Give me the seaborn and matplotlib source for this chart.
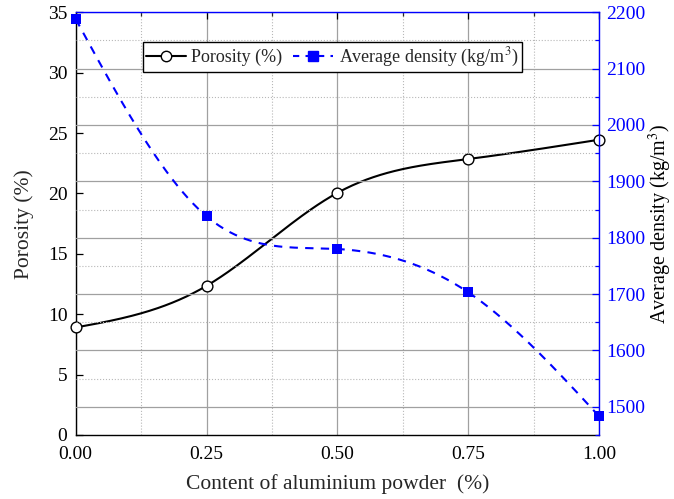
import numpy as np
import pandas as pd
import matplotlib
matplotlib.use("Agg")
import matplotlib.pyplot as plt
from matplotlib.lines import Line2D
from matplotlib.ticker import MultipleLocator
import seaborn as sns

# ---- data ----
content = [0.00, 0.25, 0.50, 0.75, 1.00]
porosity = [8.9, 12.35, 20.05, 22.85, 24.45]
density = [2188, 1838, 1780, 1703, 1483]
x_ticks = [0.00, 0.25, 0.50, 0.75, 1.00]
x_tick_labels = ["0.00", "0.25", "0.50", "0.75", "1.00"]
left_ticks = [0, 5, 10, 15, 20, 25, 30, 35]
right_ticks = [1500, 1600, 1700, 1800, 1900, 2000, 2100, 2200]


def natural_spline(x, y, n=300):
    x = np.asarray(x, float)
    y = np.asarray(y, float)
    m = len(x)
    h = np.diff(x)
    A = np.zeros((m, m))
    b = np.zeros(m)
    A[0, 0] = A[-1, -1] = 1
    for i in range(1, m - 1):
        A[i, i - 1] = h[i - 1]
        A[i, i] = 2 * (h[i - 1] + h[i])
        A[i, i + 1] = h[i]
        b[i] = 6 * ((y[i + 1] - y[i]) / h[i] - (y[i] - y[i - 1]) / h[i - 1])
    M = np.linalg.solve(A, b)
    xs = np.linspace(x[0], x[-1], n)
    idx = np.clip(np.searchsorted(x, xs) - 1, 0, m - 2)
    x0, x1 = x[idx], x[idx + 1]
    hh = x1 - x0
    t0 = x1 - xs
    t1 = xs - x0
    ys = (M[idx] * t0 ** 3 / (6 * hh) + M[idx + 1] * t1 ** 3 / (6 * hh)
          + (y[idx] / hh - M[idx] * hh / 6) * t0
          + (y[idx + 1] / hh - M[idx + 1] * hh / 6) * t1)
    return xs, ys


sns.set_theme(style="white")
plt.rcParams["font.family"] = ["Liberation Serif", "DejaVu Serif"]
plt.rcParams["mathtext.fontset"] = "stix"

fig = plt.figure(figsize=(6.74, 4.99), dpi=100)
ax = fig.add_axes([0.1123, 0.1283, 0.7767, 0.8471])
ax2 = ax.twinx()

blue = "#0000FF"

# grid on right axis
ax2.set_ylim(1450, 2200)
ax2.yaxis.set_major_locator(MultipleLocator(100))
ax2.yaxis.set_minor_locator(MultipleLocator(50))
ax2.grid(True, which="major", axis="y", color="#a0a0a0", lw=0.9, ls="-")
ax2.grid(True, which="minor", axis="y", color="#b8b8b8", lw=0.8, ls=":")

ax.set_xlim(0, 1)
ax.set_ylim(0, 35)
ax.xaxis.set_major_locator(MultipleLocator(0.25))
ax.xaxis.set_minor_locator(MultipleLocator(0.125))
ax.grid(True, which="major", axis="x", color="#a0a0a0", lw=0.9, ls="-")
ax.grid(True, which="minor", axis="x", color="#b8b8b8", lw=0.8, ls=":")
ax.grid(False, axis="y")
ax.set_axisbelow(True)

# porosity
px, py = natural_spline(content, porosity)
sns.lineplot(x=px, y=py, ax=ax, color="black", lw=1.5, sort=False, legend=False)
sns.scatterplot(x=content, y=porosity, ax=ax, marker="o", s=60, facecolor="white",
                edgecolor="black", linewidth=1.0, zorder=5, legend=False, clip_on=False)

# density
dx, dy = natural_spline(content, density)
sns.lineplot(x=dx, y=dy, ax=ax2, color=blue, lw=1.5, sort=False, legend=False,
             dashes=False)
ax2.lines[-1].set_linestyle((0, (4, 3.5)))
sns.scatterplot(x=content, y=density, ax=ax2, marker="s", s=55, color=blue,
                edgecolor=blue, linewidth=0, zorder=5, legend=False, clip_on=False)

ax.set_xticks(x_ticks)
ax.set_xticklabels(x_tick_labels)
ax.set_yticks(left_ticks)
ax2.set_yticks(right_ticks)
ax2.set_ylim(1450, 2200)

ax.tick_params(axis="x", which="major", direction="in", length=5, width=0.9,
               labelsize=14, colors="black", top=True, pad=8)
ax.tick_params(axis="y", which="major", direction="in", length=5, width=0.9,
               labelsize=14, colors="black", pad=6)
ax.tick_params(axis="x", which="minor", direction="in", length=3, width=0.9, top=True)
ax2.tick_params(axis="y", which="major", direction="in", length=5, width=0.9,
                labelsize=14, colors=blue, pad=5)
ax2.tick_params(axis="y", which="minor", direction="in", length=3, width=0.9, colors=blue)

for s in ["left", "bottom"]:
    ax.spines[s].set_color("black")
    ax.spines[s].set_linewidth(1.0)
ax2.spines["right"].set_color(blue)
ax2.spines["top"].set_color(blue)
ax2.spines["left"].set_visible(False)
ax2.spines["bottom"].set_visible(False)
ax.spines["right"].set_visible(False)
ax.spines["top"].set_visible(False)
for s in ["right", "top"]:
    ax2.spines[s].set_linewidth(1.0)

ax.set_xlabel("Content of aluminium powder  (%)", fontsize=15.5, labelpad=8)
ax.set_ylabel("Porosity (%)", fontsize=15.5, labelpad=10)
ax2.set_ylabel("Average density (kg/m$^3$)", fontsize=14.5, labelpad=1, color="black")

handles = [
    Line2D([], [], color="black", lw=1.5, marker="o", markersize=7.5,
           markerfacecolor="white", markeredgecolor="black"),
    Line2D([], [], color=blue, lw=1.5, ls=(0, (3, 3)), marker="s", markersize=7,
           markerfacecolor=blue, markeredgecolor=blue),
]
leg = ax2.legend(handles, ["Porosity (%)", "Average density (kg/m$^3$)"], ncol=2,
                 loc="upper left", bbox_to_anchor=(0.128, 0.93), fontsize=13,
                 frameon=True, fancybox=False, framealpha=1, edgecolor="black",
                 handlelength=2.2, handletextpad=0.3, columnspacing=0.6,
                 borderpad=0.2, borderaxespad=0)
leg.get_frame().set_linewidth(1.0)

fig.savefig("out.png", dpi=100)
